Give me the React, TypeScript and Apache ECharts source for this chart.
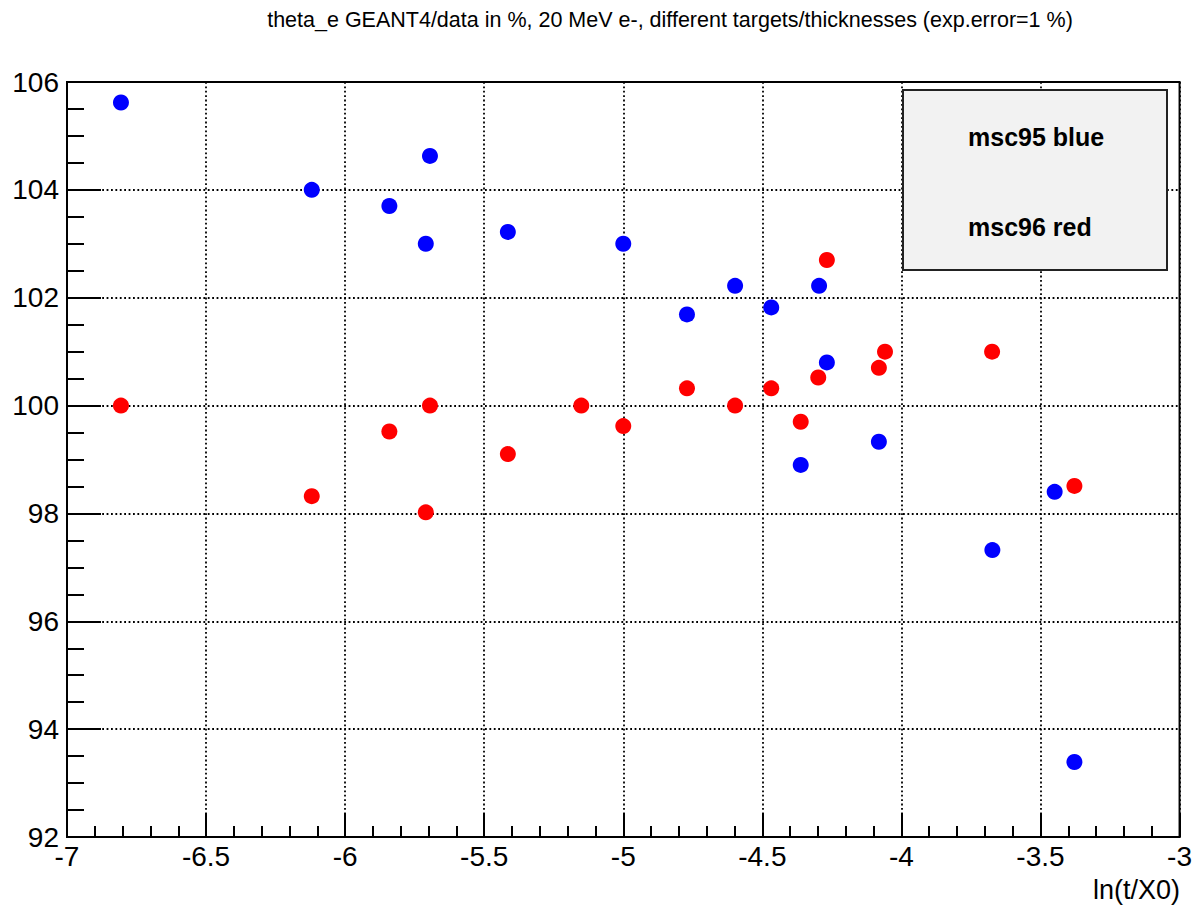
import React, { useEffect, useRef } from "react";
import * as echarts from "echarts";

const titleText =
  "theta_e GEANT4/data in %, 20 MeV e-, different targets/thicknesses (exp.error=1 %)";
const xName = "ln(t/X0)";
const legendLines = ["msc95 blue", "msc96 red"];

const blueX = [-6.806, -6.12, -5.841, -5.695, -5.71, -5.415, -5.0, -4.771, -4.598, -4.468, -4.362, -4.296, -4.268, -4.081, -3.673, -3.449, -3.378];
const blueY = [105.62, 104.0, 103.7, 104.63, 103.0, 103.22, 103.0, 101.69, 102.22, 101.82, 98.9, 102.22, 100.8, 99.33, 97.32, 98.4, 93.39];

const redX = [-6.806, -6.12, -5.841, -5.695, -5.71, -5.415, -5.151, -5.0, -4.771, -4.598, -4.468, -4.362, -4.299, -4.268, -4.081, -4.059, -3.674, -3.378];
const redY = [100.0, 98.32, 99.52, 100.0, 98.02, 99.1, 100.0, 99.62, 100.32, 100.0, 100.32, 99.7, 100.52, 102.7, 100.7, 101.0, 101.0, 98.51];

const xMin = -7, xMax = -3, xStep = 0.5;
const yMin = 92, yMax = 106, yStep = 2;

const FONT = "'Liberation Sans', Arial, Helvetica, sans-serif";

export default function App() {
  const ref = useRef<HTMLDivElement>(null);
  useEffect(() => {
    if (!ref.current) return;
    const chart = echarts.init(ref.current, null, { renderer: "svg" });
    const dotted = { color: "#000", width: 1.8, type: [1.8, 2.6] as any };
    chart.setOption({
      animation: false,
      backgroundColor: "#fff",
      grid: {
        left: 67, top: 82, right: 13, bottom: 70,
        show: true, borderColor: "#000", borderWidth: 2, backgroundColor: "transparent",
      },
      xAxis: {
        type: "value", min: xMin, max: xMax, interval: xStep,
        axisLine: { show: true, lineStyle: { color: "#000", width: 2 } },
        axisTick: { show: true, inside: true, length: 24, lineStyle: { color: "#000", width: 2 } },
        minorTick: { show: true, splitNumber: 5, length: 11, lineStyle: { color: "#000", width: 2 } },
        splitLine: { show: true, lineStyle: dotted },
        axisLabel: { fontSize: 28, margin: 5, color: "#000", fontFamily: FONT },
      },
      yAxis: {
        type: "value", min: yMin, max: yMax, interval: yStep,
        axisLine: { show: true, lineStyle: { color: "#000", width: 2 } },
        axisTick: { show: true, inside: true, length: 34, lineStyle: { color: "#000", width: 2 } },
        minorTick: { show: true, splitNumber: 4, length: 17, lineStyle: { color: "#000", width: 2 } },
        splitLine: { show: true, lineStyle: dotted },
        axisLabel: { fontSize: 28, margin: 8, color: "#000", fontFamily: FONT },
      },
      series: [
        {
          name: "msc95", type: "scatter", symbol: "circle", symbolSize: 16,
          itemStyle: { color: "#0000ff", opacity: 1 },
          data: blueX.map((x, i) => [x, blueY[i]]),
        },
        {
          name: "msc96", type: "scatter", symbol: "circle", symbolSize: 16,
          itemStyle: { color: "#ff0000", opacity: 1 },
          data: redX.map((x, i) => [x, redY[i]]),
        },
      ],
      graphic: [
        {
          type: "text", x: 670, y: 20,
          style: { text: titleText, fontSize: 21.5, fill: "#000", fontFamily: FONT, align: "center", verticalAlign: "middle" },
        },
        {
          type: "text", x: 1180, y: 890,
          style: { text: xName, fontSize: 27, fill: "#000", fontFamily: FONT, align: "right", verticalAlign: "middle" },
        },
        {
          type: "rect", shape: { x: 903, y: 90, width: 264, height: 180 },
          style: { fill: "#f2f2f2", stroke: "#222", lineWidth: 2 }, z: 10,
        },
        {
          type: "text", x: 968, y: 137, z: 11,
          style: { text: legendLines[0], fontSize: 25, fontWeight: "bold", fill: "#000", fontFamily: FONT, align: "left", verticalAlign: "middle" },
        },
        {
          type: "text", x: 968, y: 227, z: 11,
          style: { text: legendLines[1], fontSize: 25, fontWeight: "bold", fill: "#000", fontFamily: FONT, align: "left", verticalAlign: "middle" },
        },
      ],
    });
    return () => chart.dispose();
  }, []);
  return (
    <div
      ref={ref}
      style={{ position: "absolute", left: 0, top: 0, width: 1195, height: 907 }}
    />
  );
}
